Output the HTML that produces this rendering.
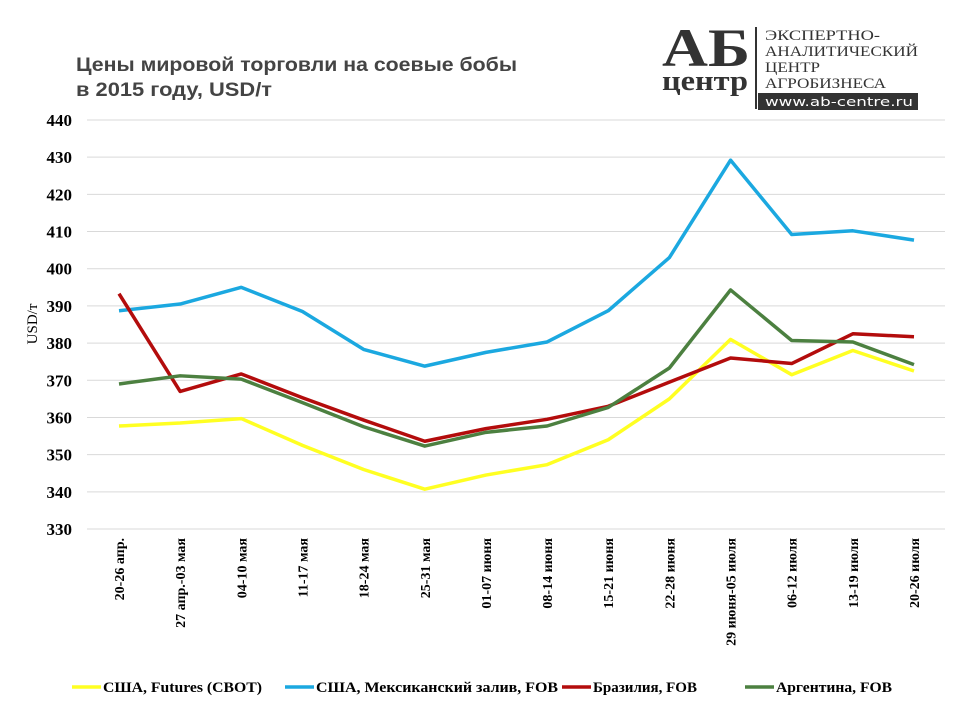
<!DOCTYPE html>
<html><head><meta charset="utf-8"><style>
body{margin:0;background:#fff;width:960px;height:720px;overflow:hidden}
</style></head><body>
<svg width="960" height="720" xmlns="http://www.w3.org/2000/svg">
<text x="76" y="71" textLength="441" lengthAdjust="spacingAndGlyphs" font-family="Liberation Sans, sans-serif" font-weight="bold" font-size="19" fill="#444">Цены мировой торговли на соевые бобы</text>
<text x="76" y="96" textLength="196" lengthAdjust="spacingAndGlyphs" font-family="Liberation Sans, sans-serif" font-weight="bold" font-size="19" fill="#444">в 2015 году, USD/т</text>
<g>
<text x="662" y="66" textLength="88" lengthAdjust="spacingAndGlyphs" font-family="Liberation Serif, serif" font-weight="bold" font-size="54" fill="#333">АБ</text>
<text x="662" y="90" textLength="86" lengthAdjust="spacingAndGlyphs" font-family="Liberation Serif, serif" font-weight="bold" font-size="28" fill="#333">центр</text>
<rect x="755" y="27" width="2" height="82" fill="#333"/>
<text x="765" y="40" textLength="115" lengthAdjust="spacingAndGlyphs" font-family="Liberation Serif, serif" font-size="15" fill="#333">ЭКСПЕРТНО-</text>
<text x="765" y="56" textLength="153" lengthAdjust="spacingAndGlyphs" font-family="Liberation Serif, serif" font-size="15" fill="#333">АНАЛИТИЧЕСКИЙ</text>
<text x="765" y="72" textLength="55" lengthAdjust="spacingAndGlyphs" font-family="Liberation Serif, serif" font-size="15" fill="#333">ЦЕНТР</text>
<text x="765" y="88" textLength="121" lengthAdjust="spacingAndGlyphs" font-family="Liberation Serif, serif" font-size="15" fill="#333">АГРОБИЗНЕСА</text>
<rect x="758" y="93" width="160" height="17" fill="#333"/>
<text x="765" y="106" textLength="148" lengthAdjust="spacingAndGlyphs" font-family="DejaVu Sans, sans-serif" font-size="12.5" fill="#fff">www.ab-centre.ru</text>
</g>
<text transform="translate(37,324) rotate(-90)" text-anchor="middle" font-family="Liberation Serif, serif" font-size="15" fill="#000">USD/т</text>
<g id="grid"></g><g id="yt"></g><g id="xt"></g><g id="series"></g><g id="legend"></g>
</svg>
<script>
const categories=["20-26 апр.","27 апр.-03 мая","04-10 мая","11-17 мая","18-24 мая","25-31 мая","01-07 июня","08-14 июня","15-21 июня","22-28 июня","29 июня-05 июля","06-12 июля","13-19 июля","20-26 июля"];
const yTicks=[330,340,350,360,370,380,390,400,410,420,430,440];
const cbot=[357.7,358.5,359.7,352.5,346,340.7,344.5,347.3,354,365,381,371.5,378,372.5];
const gulf=[388.7,390.5,395,388.5,378.3,373.8,377.5,380.3,388.7,403,429.2,409.2,410.2,407.7];
const brazil=[393.3,367,371.7,365.3,359.3,353.6,357,359.5,363,369.5,376,374.5,382.5,381.7];
const argentina=[369,371.2,370.3,364,357.5,352.3,356,357.7,362.7,373.3,394.3,380.7,380.3,374.2];
const names=["США, Futures (CBOT)","США, Мексиканский залив, FOB","Бразилия, FOB","Аргентина, FOB"];
const NS="http://www.w3.org/2000/svg";
const X0=119,X1=914,Y0=529,Y1=120,VMIN=330,VMAX=440;
function xs(i){return X0+(X1-X0)*i/(categories.length-1);}
function ys(v){return Y0-(v-VMIN)*(Y0-Y1)/(VMAX-VMIN);}
function mk(t,a,p){const e=document.createElementNS(NS,t);for(const k in a)e.setAttribute(k,a[k]);p.appendChild(e);return e;}
const grid=document.getElementById('grid'),yt=document.getElementById('yt'),xt=document.getElementById('xt');
yTicks.forEach(v=>{
const l=mk('line',{x1:87,x2:945,y1:ys(v),y2:ys(v),stroke:'#d9d9d9','stroke-width':1},grid);


const t=mk('text',{x:72,y:ys(v)+6,'text-anchor':'end','font-family':'Liberation Serif, serif','font-weight':'bold','font-size':17},yt);
t.textContent=v;


});
categories.forEach((c,i)=>{
const t=mk('text',{transform:`translate(${xs(i)+5},538) rotate(-90)`,'text-anchor':'end','font-family':'Liberation Serif, serif','font-weight':'bold','font-size':14},xt);
t.textContent=c;


});
const data=[cbot,gulf,brazil,argentina],cols=["#ffff22","#1ba8e0","#b30c0c","#4c8040"],keys=["cbot","gulf","brazil","argentina"];
const sg=document.getElementById('series');
data.forEach((d,k)=>{
const p=mk('polyline',{points:d.map((v,i)=>xs(i)+','+ys(v)).join(' '),fill:'none',stroke:cols[k],'stroke-width':3.5,'stroke-linejoin':'round'},sg);


});
const lg=document.getElementById('legend'),lx=[72,285,562,745],lw=[159,242,104,116];
names.forEach((n,k)=>{
const g=mk('g',{},lg);


mk('line',{x1:lx[k],x2:lx[k]+29,y1:687,y2:687,stroke:cols[k],'stroke-width':3.5},g);
const t=mk('text',{x:lx[k]+31,y:692,textLength:lw[k],lengthAdjust:'spacingAndGlyphs','font-family':'Liberation Serif, serif','font-weight':'bold','font-size':15},g);
t.textContent=n;
});
</script>
</body></html>
